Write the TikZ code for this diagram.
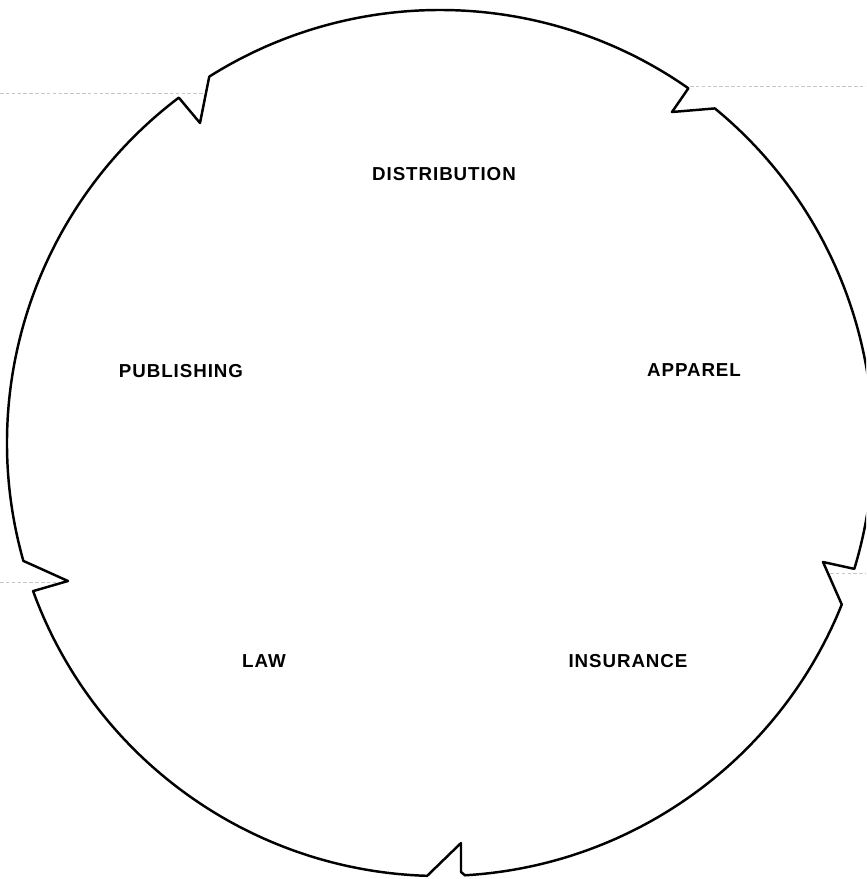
\documentclass[tikz,border=0pt]{standalone}
\usepackage{fontspec}
\newfontfamily\labfont[LetterSpace=5]{Liberation Sans}
\begin{document}
\begin{tikzpicture}[x=0.03cm,y=0.03cm,
  ring/.style={line width=2.1pt,line join=round,line cap=round},
  scan/.style={gray!45,line width=0.8pt,dash pattern=on 3pt off 2pt},
  lab/.style={font=\labfont\bfseries\fontsize{16}{19}\selectfont,inner sep=0pt}]
\useasboundingbox (0,0) rectangle (866,-879);
\clip (0,0) rectangle (866,-879);
\def\R{12.99cm}
\coordinate (C) at (440,-443);
% faint scan lines
\draw[scan] (0,-93) -- (205,-93);
\draw[scan] (690,-86) -- (866,-86);
\draw[scan] (0,-582) -- (62,-582);
\draw[scan] (830,-573) -- (866,-573);
% ring with notches
\draw[ring] ([shift={(122.2:\R)}]C) -- (200,-123) -- ([shift={(127.1:\R)}]C)
  arc[start angle=127.1,end angle=195.8,radius=\R] -- (68,-581)
  -- ([shift={(200:\R)}]C)
  arc[start angle=200,end angle=268.3,radius=\R] -- (461,-843) -- (461,-872)
  -- ([shift={(273.3:\R)}]C)
  arc[start angle=273.3,end angle=338.1,radius=\R] -- (823,-562)
  -- ([shift={(343.1:\R)}]C)
  arc[start angle=343.1,end angle=410.6,radius=\R] -- (672,-112)
  -- ([shift={(55:\R)}]C)
  arc[start angle=55,end angle=122.2,radius=\R];
% labels
\node[lab] (dist) at (444,-174) {DISTRIBUTION};
\node[lab] (pub) at (181,-371) {PUBLISHING};
\node[lab] (app) at (694,-370) {APPAREL};
\node[lab] (law) at (264,-661) {LAW};
\node[lab] (ins) at (628,-661) {INSURANCE};
\end{tikzpicture}
\end{document}
